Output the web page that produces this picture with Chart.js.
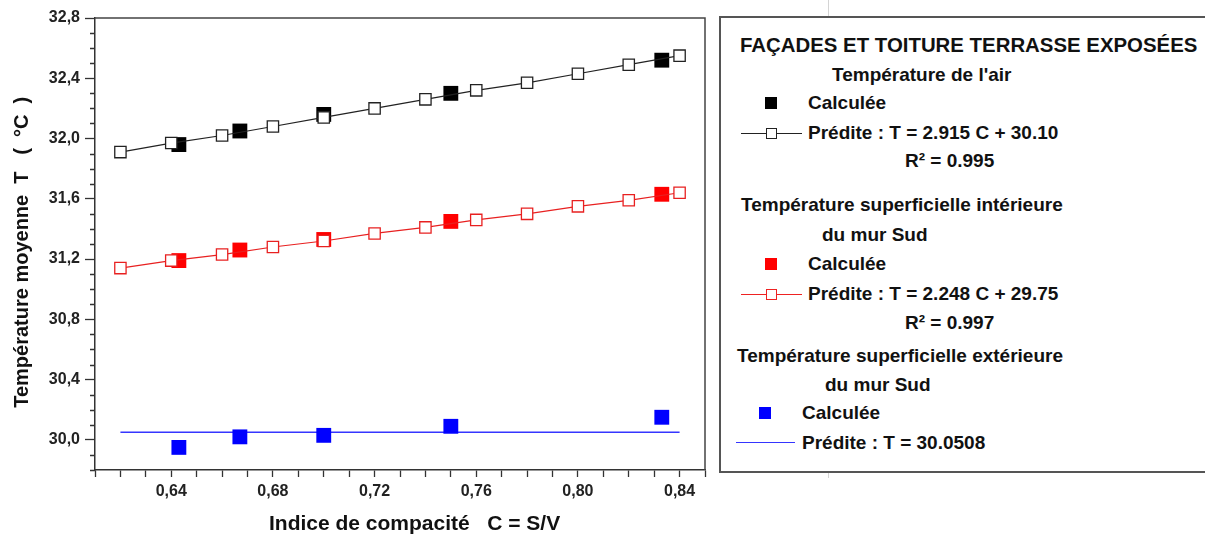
<!DOCTYPE html>
<html lang="fr">
<head>
<meta charset="utf-8">
<title>Température moyenne en fonction de l'indice de compacité</title>
<script src="https://cdn.jsdelivr.net/npm/chart.js@4.4.1/dist/chart.umd.min.js"></script>
<style>
  html, body { margin: 0; padding: 0; background: #fff; }
  #wrap { position: relative; width: 1205px; height: 540px; overflow: hidden; }
  #chart { position: absolute; left: 0; top: 0; }
  .rule { position: absolute; left: 828px; top: 0; width: 1px; height: 478px; background: #d4d4d4; }
  #legend-box {
    position: absolute; left: 719px; top: 16px; width: 520px; height: 457px;
    box-sizing: border-box; border: 2px solid #555; border-right: none; background: #fff;
  }
  .t {
    position: absolute; font: bold 19px "Liberation Sans", Arial, sans-serif;
    line-height: 22px; white-space: nowrap; color: #111;
  }
  .sq { position: absolute; width: 12px; height: 12px; }
  .ln { position: absolute; height: 1.4px; }
  .osq { position: absolute; width: 9px; height: 9px; border: 1.3px solid; background: #fff; }
</style>
</head>
<body>
<div id="wrap">
  <canvas id="chart" width="1205" height="540"></canvas>
  <div class="rule"></div>
  <div id="legend-box"></div>

  <div class="t" style="left:740px;top:34px;font-size:20.4px">FAÇADES ET TOITURE TERRASSE EXPOSÉES</div>
  <div class="t" style="left:832px;top:64px">Température de l'air</div>
  <div class="sq" style="left:765px;top:97px;background:#000"></div>
  <div class="t" style="left:808px;top:92px">Calculée</div>
  <div class="ln" style="left:741px;top:133px;width:61px;background:#222"></div>
  <div class="osq" style="left:766px;top:128px;border-color:#222"></div>
  <div class="t" style="left:808px;top:122px">Prédite : T = 2.915 C + 30.10</div>
  <div class="t" style="left:905px;top:150px">R² = 0.995</div>

  <div class="t" style="left:741px;top:194px">Température superficielle intérieure</div>
  <div class="t" style="left:822px;top:224px">du mur Sud</div>
  <div class="sq" style="left:765px;top:258px;background:#f00"></div>
  <div class="t" style="left:808px;top:253px">Calculée</div>
  <div class="ln" style="left:741px;top:294px;width:61px;background:#e22"></div>
  <div class="osq" style="left:766px;top:289px;border-color:#e22"></div>
  <div class="t" style="left:808px;top:283px">Prédite : T = 2.248 C + 29.75</div>
  <div class="t" style="left:905px;top:312px">R² = 0.997</div>

  <div class="t" style="left:737px;top:345px">Température superficielle extérieure</div>
  <div class="t" style="left:825px;top:374px">du mur Sud</div>
  <div class="sq" style="left:759px;top:407px;background:#00f"></div>
  <div class="t" style="left:802px;top:402px">Calculée</div>
  <div class="ln" style="left:736px;top:442px;width:59px;background:#3535ff"></div>
  <div class="t" style="left:802px;top:432px">Prédite : T = 30.0508</div>
</div>

<script>
// indice de compacité C = S/V des cas calculés
const xCalc = [0.643, 0.667, 0.700, 0.750, 0.833];
// températures calculées (°C)
const airCalc = [31.96, 32.05, 32.16, 32.30, 32.52];
const wallInCalc = [31.19, 31.26, 31.33, 31.45, 31.63];
const wallOutCalc = [29.95, 30.02, 30.03, 30.09, 30.15];

// droites prédites
const xPred = [0.62, 0.64, 0.66, 0.68, 0.70, 0.72, 0.74, 0.76, 0.78, 0.80, 0.82, 0.84];
const airPred = [31.91, 31.97, 32.02, 32.08, 32.14, 32.20, 32.26, 32.32, 32.37, 32.43, 32.49, 32.55];
const wallInPred = [31.14, 31.19, 31.23, 31.28, 31.32, 31.37, 31.41, 31.46, 31.50, 31.55, 31.59, 31.64];
const xOutPred = [0.62, 0.84];
const wallOutPred = [30.0508, 30.0508];

// axes
const xRange = [0.61, 0.85];
const yRange = [29.8, 32.8];

const FONT = '"Liberation Sans", Arial, sans-serif';

function toPoints(xs, ys) {
  return xs.map((x, i) => ({ x: x, y: ys[i] }));
}

function isMajorY(v) {
  return Math.round(v * 10) % 4 === 0;
}
function isMajorX(v) {
  return Math.round(v * 100) % 4 === 0;
}

// cadre haut/droite et petites graduations de l'axe Y
const framePlugin = {
  id: "frame",
  afterDraw(chart) {
    const { ctx, chartArea: a } = chart;
    const y = chart.scales.y;
    ctx.save();
    ctx.strokeStyle = "#444";
    ctx.lineWidth = 1.5;
    ctx.beginPath();
    ctx.moveTo(a.left, a.top);
    ctx.lineTo(a.right, a.top);
    ctx.lineTo(a.right, a.bottom);
    ctx.stroke();

    ctx.strokeStyle = "#333";
    ctx.lineWidth = 1.3;
    ctx.beginPath();
    y.ticks.forEach((t) => {
      if (!isMajorY(t.value)) {
        const py = Math.round(y.getPixelForValue(t.value)) + 0.5;
        ctx.moveTo(a.left - 5, py);
        ctx.lineTo(a.left, py);
      }
    });
    ctx.stroke();
    ctx.restore();
  },
};

function openSquares(color, ys) {
  return {
    data: toPoints(xPred, ys),
    showLine: true,
    borderColor: color,
    borderWidth: 1.2,
    pointStyle: "rect",
    pointRadius: 8,
    pointBackgroundColor: "#fff",
    pointBorderColor: color,
    pointBorderWidth: 1.3,
    order: 1,
  };
}

function filledSquares(color, ys) {
  return {
    data: toPoints(xCalc, ys),
    showLine: false,
    pointStyle: "rect",
    pointRadius: 10.5,
    pointBackgroundColor: color,
    pointBorderWidth: 0,
    order: 2,
  };
}

const ctx = document.getElementById("chart").getContext("2d");

const chart = new Chart(ctx, {
  type: "scatter",
  data: {
    datasets: [
      openSquares("#222", airPred),
      filledSquares("#000", airCalc),
      openSquares("#e82020", wallInPred),
      filledSquares("#ff0000", wallInCalc),
      {
        data: toPoints(xOutPred, wallOutPred),
        showLine: true,
        borderColor: "#3535ff",
        borderWidth: 1.5,
        pointRadius: 0,
        order: 3,
      },
      filledSquares("#0000ff", wallOutCalc),
    ],
  },
  options: {
    responsive: false,
    animation: false,
    layout: { padding: { top: 18, right: 500, left: 0, bottom: 0 } },
    plugins: {
      legend: { display: false },
      tooltip: { enabled: false },
    },
    scales: {
      x: {
        type: "linear",
        min: xRange[0],
        max: xRange[1],
        afterFit: (scale) => {
          scale.height = 70;
        },
        border: { color: "#333", width: 1.5 },
        grid: {
          drawOnChartArea: false,
          tickLength: 7,
          tickColor: "#333",
          tickWidth: 1.3,
        },
        ticks: {
          stepSize: 0.01,
          autoSkip: false,
          maxRotation: 0,
          padding: 5,
          color: "#222",
          font: { family: FONT, size: 16, weight: "bold" },
          callback: (v) => (isMajorX(v) ? v.toFixed(2).replace(".", ",") : ""),
        },
        title: {
          display: true,
          text: "     Indice de compacité   C = S/V",
          color: "#111",
          font: { family: FONT, size: 21, weight: "bold" },
          padding: { top: 0, bottom: 3 },
        },
      },
      y: {
        type: "linear",
        min: yRange[0],
        max: yRange[1],
        afterFit: (scale) => {
          scale.width = 95;
        },
        border: { color: "#333", width: 1.5 },
        grid: {
          drawOnChartArea: false,
          tickLength: 10,
          tickWidth: 1.3,
          tickColor: (c) => (c.tick && isMajorY(c.tick.value) ? "#333" : "rgba(0,0,0,0)"),
        },
        ticks: {
          stepSize: 0.1,
          autoSkip: false,
          padding: 5,
          color: "#222",
          font: { family: FONT, size: 16, weight: "bold" },
          callback: (v) => (isMajorY(v) ? v.toFixed(1).replace(".", ",") : ""),
        },
        title: {
          display: true,
          text: "Température moyenne  T   (  °C  )   ",
          color: "#111",
          font: { family: FONT, size: 20, weight: "bold" },
          padding: { top: 10, bottom: 0 },
        },
      },
    },
  },
  plugins: [framePlugin],
});
</script>
</body>
</html>
